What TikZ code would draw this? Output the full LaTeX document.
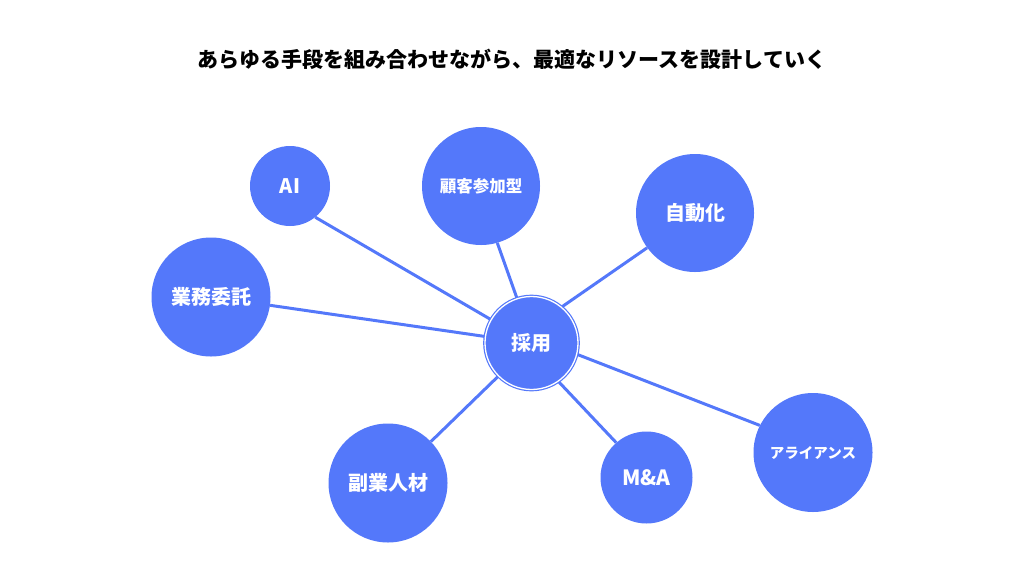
\documentclass[tikz,border=0pt]{standalone}
\usepackage{fontspec}
\setmainfont{Noto Sans CJK JP}
\usepackage{tikz}
\usetikzlibrary{backgrounds}
\definecolor{nodeBlue}{RGB}{84,120,250}

\begin{document}
\begin{tikzpicture}[x=1pt, y=-1pt,
    bubble/.style={shape=circle, fill=nodeBlue, text=white, inner sep=0pt, font=\fontsize{20}{24}\selectfont\bfseries},
    link/.style={draw=nodeBlue, line width=3pt}]
    \useasboundingbox (0,0) rectangle (1024,576);

    \node[font=\fontsize{21}{25}\selectfont\bfseries] (title) at (512,59) {あらゆる手段を組み合わせながら、最適なリソースを設計していく};

    \node[bubble, minimum size=93pt, draw=nodeBlue, double=white, double distance=1.3pt, line width=1.2pt] (hire) at (531.5,343) {採用};

    \node[bubble, minimum size=80pt] (ai) at (290,186) {AI};
    \node[bubble, minimum size=118pt, font=\fontsize{16.5}{20}\selectfont\bfseries] (customer) at (481,186) {顧客参加型};
    \node[bubble, minimum size=118pt] (auto) at (695,213) {自動化};
    \node[bubble, minimum size=119pt] (outsource) at (211,297) {業務委託};
    \node[bubble, minimum size=119pt] (sideJob) at (388,483) {副業人材};
    \node[bubble, minimum size=92pt, font=\fontsize{21}{25}\selectfont\bfseries] (mna) at (646.5,477.5) {M\&A};
    \node[bubble, minimum size=119pt, font=\fontsize{14.5}{18}\selectfont\bfseries] (alliance) at (813,452.5) {アライアンス};

    \begin{pgfonlayer}{background}
    \draw[link] (ai.309) -- (hire.150);
    \draw[link] (customer.286) -- (hire.108);
    \draw[link] (auto.216) -- (hire.50);
    \draw[link] (outsource.352) -- (hire.172);
    \draw[link] (sideJob.44) -- (hire.225);
    \draw[link] (mna.131) -- (hire.305);
    \draw[link] (alliance.153) -- (hire.346);
    \end{pgfonlayer}
\end{tikzpicture}
\end{document}
